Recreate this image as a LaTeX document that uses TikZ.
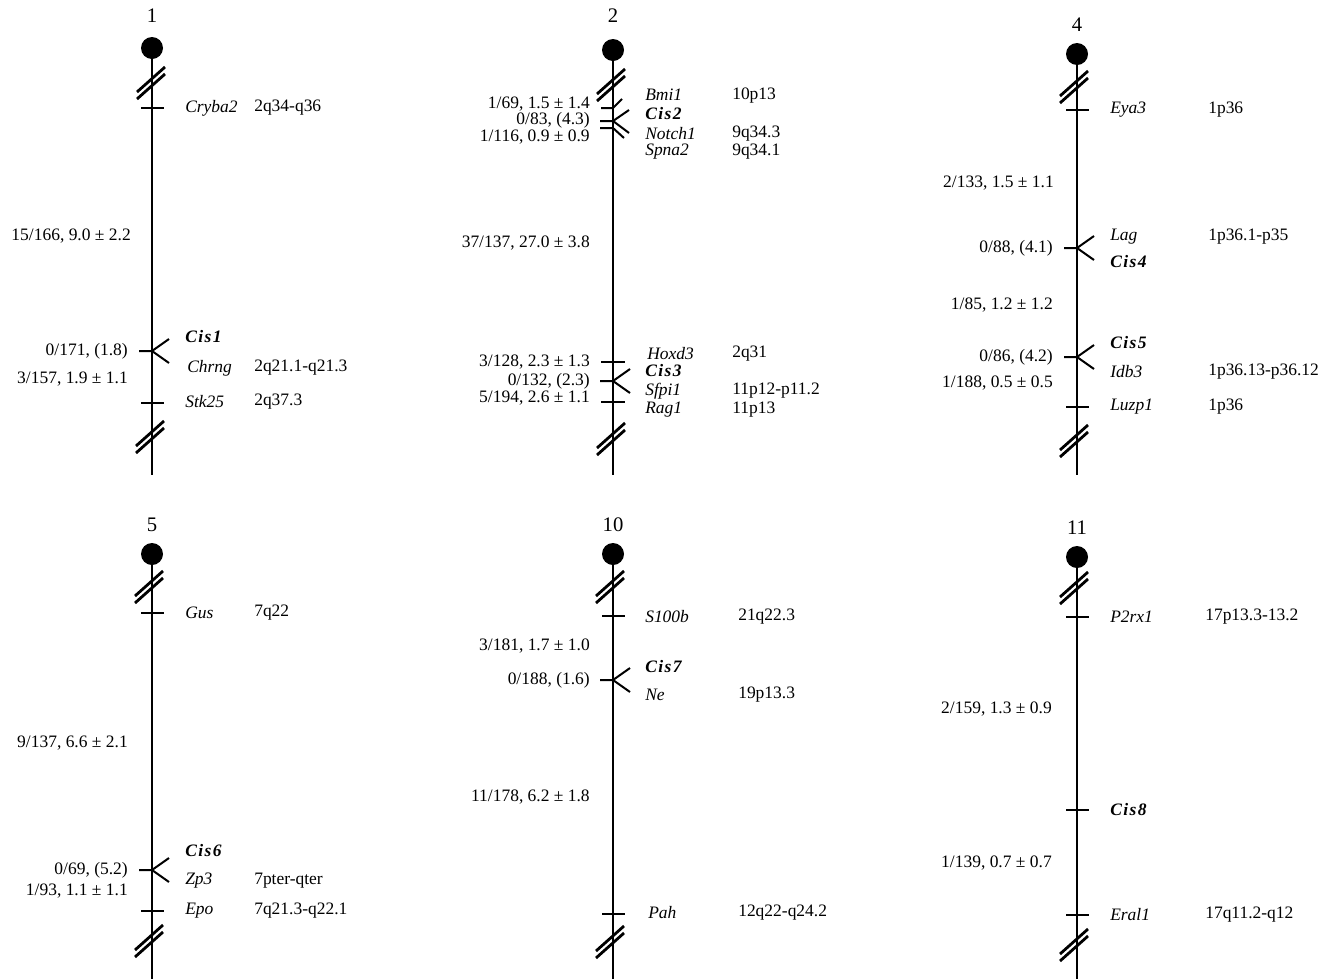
\documentclass[tikz,border=0pt]{standalone}
\usepackage{fontspec}
\setmainfont{Liberation Serif}
\newcommand\fsz{\fontsize{13.1}{15}\selectfont}
\tikzset{
  chr/.style={line width=1.5pt},
  gene/.style={anchor=west,inner sep=0pt,font=\fsz\itshape},
  cis/.style={anchor=west,inner sep=0pt,font=\fsz\bfseries\itshape\addfontfeatures{LetterSpace=8}},
  cyto/.style={anchor=west,inner sep=0pt,font=\fsz},
  dist/.style={anchor=east,inner sep=0pt,font=\fsz},
  num/.style={inner sep=0pt,font=\fontsize{15.5}{17}\selectfont},
  cen/.style={circle,fill=black,minimum size=16.5pt,inner sep=0pt},
  tk/.pic={\draw[chr] (-11,0) -- (12,0);},
  fk/.pic={\draw[chr] (-13,0) -- (0,0) -- (17,-12) (0,0) -- (17,12);},
  brk/.pic={\draw[line width=2.1pt] (-15,8) -- (13,-17); \draw[line width=2.1pt] (-15,15) -- (13,-10);}
}
\begin{document}
\begin{tikzpicture}[x=0.75pt,y=-0.75pt]
\useasboundingbox (0,0) rectangle (1320,979);
% ---------- Chromosome 1 ----------
\node[num] (n1) at (152,16) {1};
\node[cen] (c1) at (152,48) {};
\coordinate (e1) at (152,475);
\draw[chr] (c1) -- (e1);
\pic at (152,84) {brk};
\pic at (151,438) {brk};
\pic at (152,108) {tk};
\node[gene] (g1a) at (185,108) {Cryba2};
\node[cyto] (y1a) at (254,108) {2q34-q36};
\node[dist] (d1a) at (131,236) {15/166, 9.0 ± 2.2};
\pic at (152,351) {fk};
\node[cis] (g1b) at (185,337) {Cis1};
\node[gene] (g1c) at (187,368) {Chrng};
\node[cyto] (y1c) at (254,368) {2q21.1-q21.3};
\node[dist] (d1b) at (128,351) {0/171, (1.8)};
\node[dist] (d1c) at (128,379) {3/157, 1.9 ± 1.1};
\pic at (152,403) {tk};
\node[gene] (g1d) at (185,402) {Stk25};
\node[cyto] (y1d) at (254,402) {2q37.3};
% ---------- Chromosome 2 ----------
\node[num] (n2) at (613,16) {2};
\node[cen] (c2) at (613,50) {};
\coordinate (e2) at (613,475);
\draw[chr] (c2) -- (e2);
\pic at (612,86) {brk};
\pic at (612,440) {brk};
\draw[chr] (601,108) -- (613,108) -- (622,99);
\draw[chr] (600,121) -- (613,121) -- (629,110) (613,121) -- (629,133);
\draw[chr] (600,128) -- (613,128) -- (624,138);
\node[gene] (g2a) at (645,95) {Bmi1};
\node[cis] (g2b) at (645,114) {Cis2};
\node[gene] (g2c) at (645,134) {Notch1};
\node[gene] (g2d) at (645,152) {Spna2};
\node[cyto] (y2a) at (732,96) {10p13};
\node[cyto] (y2c) at (732,134) {9q34.3};
\node[cyto] (y2d) at (732,152) {9q34.1};
\node[dist] (d2a) at (590,104) {1/69, 1.5 ± 1.4};
\node[dist] (d2b) at (590,120) {0/83, (4.3)};
\node[dist] (d2c) at (590,137) {1/116, 0.9 ± 0.9};
\node[dist] (d2d) at (590,243) {37/137, 27.0 ± 3.8};
\draw[chr] (601,362) -- (625,362);
\node[gene] (g2e) at (647,354) {Hoxd3};
\node[cyto] (y2e) at (732,354) {2q31};
\node[dist] (d2e) at (590,362) {3/128, 2.3 ± 1.3};
\pic at (613,381) {fk};
\node[cis] (g2f) at (645,371) {Cis3};
\node[dist] (d2f) at (590,381) {0/132, (2.3)};
\node[gene] (g2g) at (645,391) {Sfpi1};
\node[cyto] (y2g) at (732,391) {11p12-p11.2};
\draw[chr] (601,402) -- (625,402);
\node[dist] (d2g) at (590,398) {5/194, 2.6 ± 1.1};
\node[gene] (g2h) at (645,410) {Rag1};
\node[cyto] (y2h) at (732,410) {11p13};
% ---------- Chromosome 4 ----------
\node[num] (n4) at (1077,25) {4};
\node[cen] (c4) at (1077,54) {};
\coordinate (e4) at (1077,475);
\draw[chr] (c4) -- (e4);
\pic at (1075,88) {brk};
\pic at (1075,442) {brk};
\pic at (1077,110) {tk};
\node[gene] (g4a) at (1110,110) {Eya3};
\node[cyto] (y4a) at (1208,110) {1p36};
\node[dist] (d4a) at (1054,183) {2/133, 1.5 ± 1.1};
\pic at (1077,248) {fk};
\node[gene] (g4b) at (1110,237) {Lag};
\node[cis] (g4c) at (1110,262) {Cis4};
\node[cyto] (y4b) at (1208,237) {1p36.1-p35};
\node[dist] (d4b) at (1053,248) {0/88, (4.1)};
\node[dist] (d4c) at (1053,305) {1/85, 1.2 ± 1.2};
\pic at (1077,357) {fk};
\node[cis] (g4d) at (1110,343) {Cis5};
\node[gene] (g4e) at (1110,372) {Idb3};
\node[cyto] (y4e) at (1208,372) {1p36.13-p36.12};
\node[dist] (d4d) at (1053,357) {0/86, (4.2)};
\node[dist] (d4e) at (1053,383) {1/188, 0.5 ± 0.5};
\pic at (1077,407) {tk};
\node[gene] (g4f) at (1110,407) {Luzp1};
\node[cyto] (y4f) at (1208,407) {1p36};
% ---------- Chromosome 5 ----------
\node[num] (n5) at (152,525) {5};
\node[cen] (c5) at (152,554) {};
\coordinate (e5) at (152,979);
\draw[chr] (c5) -- (e5);
\pic at (150,588) {brk};
\pic at (150,942) {brk};
\pic at (152,613) {tk};
\node[gene] (g5a) at (185,613) {Gus};
\node[cyto] (y5a) at (254,613) {7q22};
\node[dist] (d5a) at (128,743) {9/137, 6.6 ± 2.1};
\pic at (152,870) {fk};
\node[cis] (g5b) at (185,851) {Cis6};
\node[gene] (g5c) at (185,881) {Zp3};
\node[cyto] (y5c) at (254,881) {7pter-qter};
\node[dist] (d5b) at (128,870) {0/69, (5.2)};
\node[dist] (d5c) at (128,891) {1/93, 1.1 ± 1.1};
\pic at (152,911) {tk};
\node[gene] (g5d) at (185,911) {Epo};
\node[cyto] (y5d) at (254,911) {7q21.3-q22.1};
% ---------- Chromosome 10 ----------
\node[num] (n10) at (613,525) {10};
\node[cen] (c10) at (613,554) {};
\coordinate (e10) at (613,979);
\draw[chr] (c10) -- (e10);
\pic at (611,588) {brk};
\pic at (611,943) {brk};
\pic at (613,616) {tk};
\node[gene] (g10a) at (645,617) {S100b};
\node[cyto] (y10a) at (738,617) {21q22.3};
\node[dist] (d10a) at (590,646) {3/181, 1.7 ± 1.0};
\pic at (613,680) {fk};
\node[cis] (g10b) at (645,667) {Cis7};
\node[gene] (g10c) at (645,695) {Ne};
\node[cyto] (y10c) at (738,695) {19p13.3};
\node[dist] (d10b) at (590,680) {0/188, (1.6)};
\node[dist] (d10c) at (590,797) {11/178, 6.2 ± 1.8};
\pic at (613,914) {tk};
\node[gene] (g10d) at (648,913) {Pah};
\node[cyto] (y10d) at (738,913) {12q22-q24.2};
% ---------- Chromosome 11 ----------
\node[num] (n11) at (1077,528) {11};
\node[cen] (c11) at (1077,557) {};
\coordinate (e11) at (1077,979);
\draw[chr] (c11) -- (e11);
\pic at (1075,589) {brk};
\pic at (1075,946) {brk};
\pic at (1077,617) {tk};
\node[gene] (g11a) at (1110,617) {P2rx1};
\node[cyto] (y11a) at (1205,617) {17p13.3-13.2};
\node[dist] (d11a) at (1052,709) {2/159, 1.3 ± 0.9};
\pic at (1077,810) {tk};
\node[cis] (g11b) at (1110,810) {Cis8};
\node[dist] (d11b) at (1052,863) {1/139, 0.7 ± 0.7};
\pic at (1077,915) {tk};
\node[gene] (g11c) at (1110,915) {Eral1};
\node[cyto] (y11c) at (1205,915) {17q11.2-q12};
\end{tikzpicture}
\end{document}
